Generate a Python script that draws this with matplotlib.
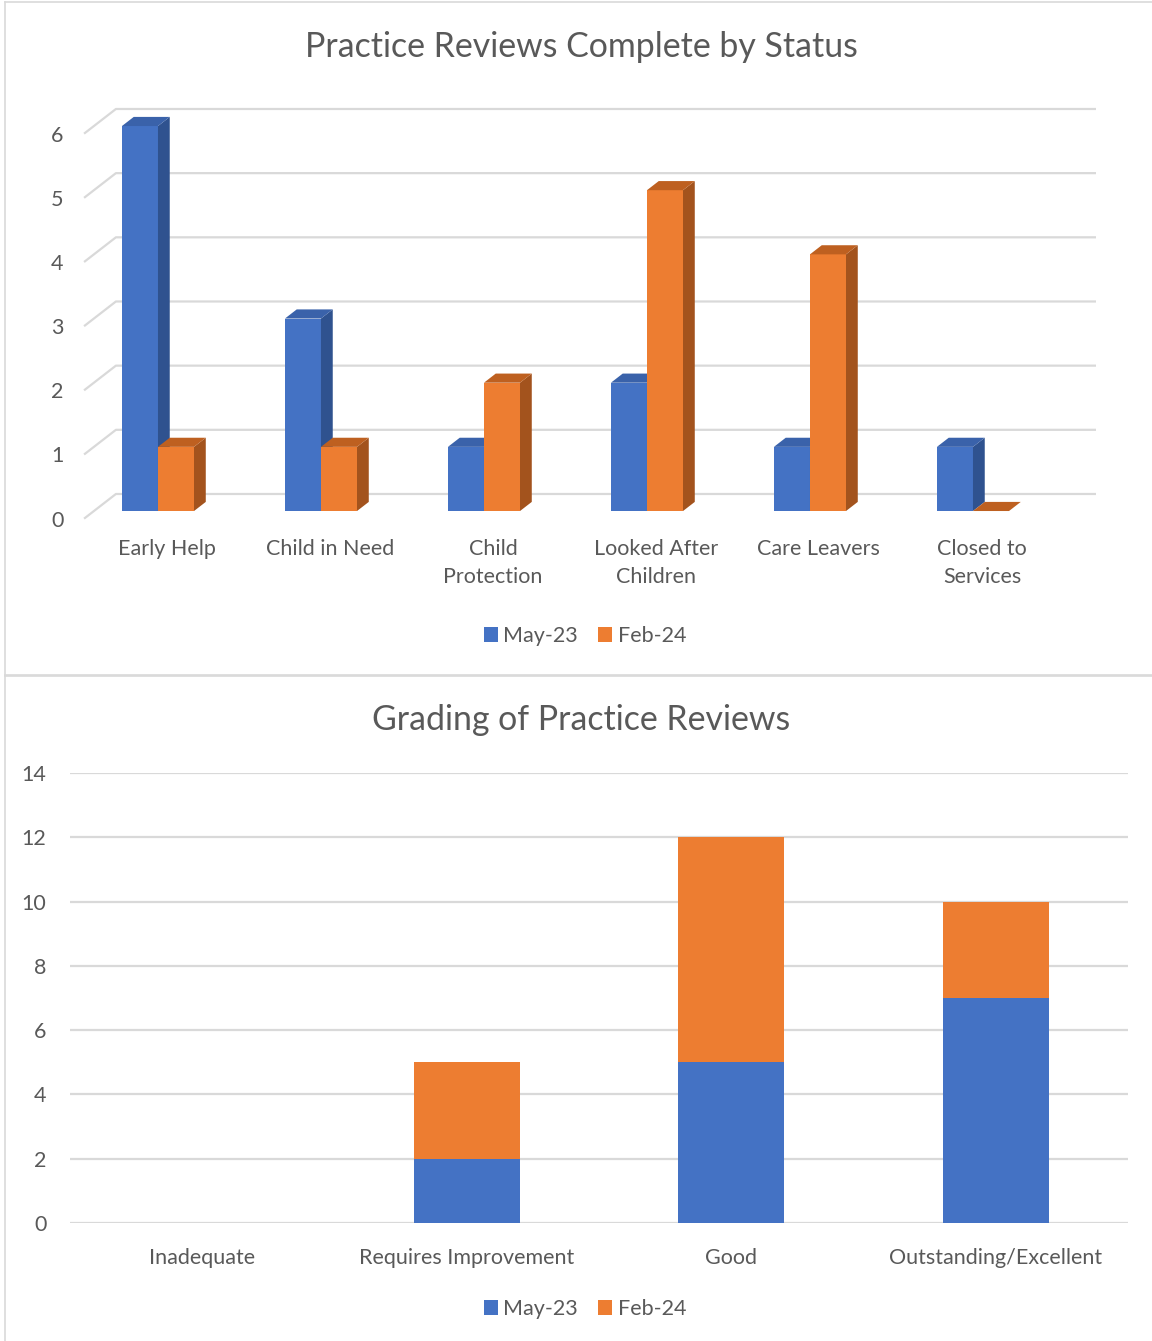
import matplotlib
matplotlib.use("Agg")
import matplotlib.pyplot as plt
from matplotlib.patches import Polygon, Patch
from matplotlib.lines import Line2D

plt.rcParams['font.family'] = ['Lato', 'DejaVu Sans']

# data
status_cats = ["Early Help", "Child in Need", "Child\nProtection",
               "Looked After\nChildren", "Care Leavers", "Closed to\nServices"]
status_may23 = [6, 3, 1, 2, 1, 1]
status_feb24 = [1, 1, 2, 5, 4, 0]

grade_cats = ["Inadequate", "Requires Improvement", "Good", "Outstanding/Excellent"]
grade_may23 = [0, 2, 5, 7]
grade_feb24 = [0, 3, 7, 3]

series_names = ["May-23", "Feb-24"]

BLUE = "#4472C4"
BLUE_SIDE = "#2F528F"
BLUE_TOP = "#3A62AA"
ORANGE = "#ED7D31"
ORANGE_SIDE = "#A3531D"
ORANGE_TOP = "#BE6020"
GRID = "#D9D9D9"
TXT = "#595959"
FS = 15.5

W, H = 1152, 1341
fig = plt.figure(figsize=(W / 100, H / 100), dpi=100)


def axes_px(x0, x1, ytop, ybot):
    return fig.add_axes([x0 / W, 1 - ybot / H, (x1 - x0) / W, (ybot - ytop) / H])


# panel frames
for y0, y1 in [(2, 675), (676, 1345)]:
    fig.add_artist(Line2D([5 / W, 5 / W], [1 - y0 / H, 1 - y1 / H], color=GRID, lw=1.2))
    fig.add_artist(Line2D([5 / W, 1], [1 - y1 / H, 1 - y1 / H], color=GRID, lw=1.2))
    fig.add_artist(Line2D([5 / W, 1], [1 - y0 / H, 1 - y0 / H], color=GRID, lw=1.2))

# ---- top chart: 3D style columns ----
ax = axes_px(67.5, 1127, 100.9, 524.4)
ax.set_xlim(-0.5, 6.0)
ax.set_ylim(-0.1, 6.5)
ax.axis("off")

DX, DY = 0.19, 0.374      # depth offset (full depth)
D0, D1 = 0.29, 0.67       # bar front/back depth
BW = 0.221
WALL_L, WALL_R = -0.393, 5.613


def proj(x, v, d):
    return (x + DX * d, v + DY * d)


for v in range(0, 7):
    a = proj(WALL_L, v, 0)
    b = proj(WALL_L, v, 1)
    c = proj(WALL_R, v, 1)
    ax.plot([a[0], b[0], c[0]], [a[1], b[1], c[1]], color=GRID, lw=1.6, zorder=1)
    ax.text(WALL_L - 0.17, v - 0.04, str(v), ha="center", va="center", fontsize=FS, color=TXT)


def bar3d(x0, x1, v, front, side, top):
    if v > 0:
        ax.add_patch(Polygon([proj(x0, 0, D0), proj(x1, 0, D0), proj(x1, v, D0), proj(x0, v, D0)],
                             closed=True, fc=front, ec="none", zorder=3))
        ax.add_patch(Polygon([proj(x1, 0, D0), proj(x1, 0, D1), proj(x1, v, D1), proj(x1, v, D0)],
                             closed=True, fc=side, ec="none", zorder=3))
    ax.add_patch(Polygon([proj(x0, v, D0), proj(x1, v, D0), proj(x1, v, D1), proj(x0, v, D1)],
                         closed=True, fc=top, ec="none", zorder=3))


for i, (m, f) in enumerate(zip(status_may23, status_feb24)):
    bar3d(i - BW, i, m, BLUE, BLUE_SIDE, BLUE_TOP)
    bar3d(i, i + BW, f, ORANGE, ORANGE_SIDE, ORANGE_TOP)
    ax.text(i + 0.11, -0.32, status_cats[i], ha="center", va="top", fontsize=FS,
            color=TXT, linespacing=1.52)

fig.text(581 / W, 1 - 47 / H, "Practice Reviews Complete by Status", ha="center",
         va="center", fontsize=24.4, color=TXT)

handles = [Patch(fc=BLUE, ec="none"), Patch(fc=ORANGE, ec="none")]
for ly in (636, 1309):
    fig.legend(handles, series_names, loc="center", bbox_to_anchor=(585 / W, 1 - ly / H),
               ncol=2, frameon=False, fontsize=FS, labelcolor=TXT, handlelength=0.65,
               handleheight=0.65, handletextpad=0.25, columnspacing=0.95)

# ---- bottom chart: stacked columns ----
ax2 = axes_px(70, 1128, 773, 1223)
x = range(len(grade_cats))
ax2.bar(x, grade_may23, width=0.4, color=BLUE, zorder=3)
ax2.bar(x, grade_feb24, width=0.4, bottom=grade_may23, color=ORANGE, zorder=3)
ax2.set_xlim(-0.5, 3.5)
ax2.set_ylim(0, 14)
ax2.set_yticks(range(0, 15, 2))
ax2.set_xticks(list(x))
ax2.set_xticklabels(grade_cats)
ax2.yaxis.grid(True, color=GRID, lw=1.6, zorder=0)
ax2.set_axisbelow(True)
for s in ax2.spines.values():
    s.set_visible(False)
ax2.tick_params(axis="both", length=0, labelsize=FS, labelcolor=TXT)
ax2.tick_params(axis="y", pad=17)
ax2.tick_params(axis="x", pad=18)

fig.text(581 / W, 1 - 720 / H, "Grading of Practice Reviews", ha="center",
         va="center", fontsize=24.4, color=TXT)

fig.savefig("out.png", dpi=100)
